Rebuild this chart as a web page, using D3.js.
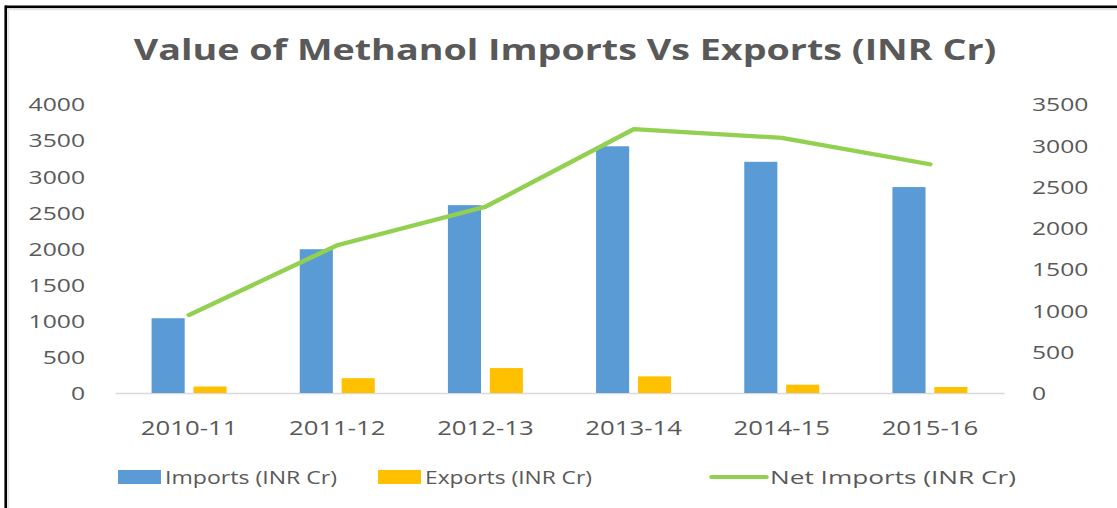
<!DOCTYPE html>
<html>
<head>
<meta charset="utf-8">
<script src="https://cdn.jsdelivr.net/npm/d3@7"></script>
<style>
  html, body { margin: 0; padding: 0; background: #fff; }
  svg { display: block; }
</style>
</head>
<body>
<div id="chart"></div>
<script>
// data
var years = ["2010-11", "2011-12", "2012-13", "2013-14", "2014-15", "2015-16"];
var imports = [1035, 1990, 2600, 3415, 3200, 2850];
var exports = [90, 205, 345, 230, 115, 83];
var netImports = [945, 1790, 2255, 3195, 3090, 2770];
var leftTicks = [0, 500, 1000, 1500, 2000, 2500, 3000, 3500, 4000];
var rightTicks = [0, 500, 1000, 1500, 2000, 2500, 3000, 3500];

var seriesNames = ["Imports (INR Cr)", "Exports (INR Cr)", "Net Imports (INR Cr)"];
var colors = { imp: "#5B9BD5", exp: "#FFC000", net: "#92D050" };
var textColor = "#595959";
var font = "'Open Sans', sans-serif";

// the picture is stretched sideways, so draw narrower and stretch it back
var SX = 1.3;
var width = 1117, height = 508;
var sx = v => v / SX;   // reference x -> drawing x

var svg = d3.select("#chart").append("svg")
  .attr("width", width)
  .attr("height", height)
  .attr("viewBox", `0 0 ${width / SX} ${height}`)
  .attr("preserveAspectRatio", "none");

// frame (black top / left edge with a faint gray inner line)
svg.append("line").attr("x1", sx(5)).attr("x2", sx(width)).attr("y1", 6.9).attr("y2", 6.9)
  .attr("stroke", "#000").attr("stroke-width", 2.6);
svg.append("line").attr("x1", sx(5.7)).attr("x2", sx(5.7)).attr("y1", 5.6).attr("y2", height)
  .attr("stroke", "#000").attr("stroke-width", 2.6 / SX);
svg.append("line").attr("x1", sx(8.2)).attr("x2", sx(width)).attr("y1", 9.2).attr("y2", 9.2)
  .attr("stroke", "#e4e4e4").attr("stroke-width", 2);
svg.append("line").attr("x1", sx(8.2)).attr("x2", sx(8.2)).attr("y1", 9.2).attr("y2", height)
  .attr("stroke", "#e4e4e4").attr("stroke-width", 2 / SX);

// title
svg.append("text")
  .attr("x", sx(565))
  .attr("y", 60)
  .attr("text-anchor", "middle")
  .attr("font-family", font)
  .attr("font-weight", "bold")
  .attr("font-size", 29)
  .attr("fill", textColor)
  .text("Value of Methanol Imports Vs Exports (INR Cr)");

// scales
var x0 = d3.scaleBand()
  .domain(years)
  .range([sx(115), sx(1004)])
  .padding(0);

var groupW = sx(75);
var x1 = d3.scaleBand()
  .domain(["imp", "exp"])
  .range([0, groupW])
  .paddingInner(0.21);

var yL = d3.scaleLinear().domain([0, 4000]).range([393, 104]);
var yR = d3.scaleLinear().domain([0, 3500]).range([393, 104]);

// left axis
var gL = svg.append("g")
  .attr("transform", `translate(${sx(85)},0)`)
  .call(d3.axisLeft(yL).tickValues(leftTicks).tickFormat(d3.format("d")).tickSize(0).tickPadding(0));
gL.select(".domain").remove();

// right axis
var gR = svg.append("g")
  .attr("transform", `translate(${sx(1032)},0)`)
  .call(d3.axisRight(yR).tickValues(rightTicks).tickFormat(d3.format("d")).tickSize(0).tickPadding(0));
gR.select(".domain").remove();

// bottom axis
var gB = svg.append("g")
  .attr("transform", "translate(0,393)")
  .call(d3.axisBottom(x0).tickSize(0).tickSizeOuter(0));
gB.select(".domain").attr("stroke", "#d9d9d9").attr("stroke-width", 1.4);
gB.selectAll("text").attr("y", 42).attr("dy", 0);

[gL, gR].forEach(g => {
  g.attr("font-family", font).attr("font-size", 19);
  g.selectAll("text").attr("fill", textColor).attr("dy", "0.36em");
});
gB.attr("font-family", font).attr("font-size", 19.8);
gB.selectAll("text").attr("fill", textColor);

// bars
var groups = svg.append("g").selectAll("g")
  .data(years)
  .join("g")
  .attr("transform", d => `translate(${x0(d) + (x0.bandwidth() - groupW) / 2},0)`);

groups.append("rect")
  .attr("x", x1("imp"))
  .attr("width", x1.bandwidth())
  .attr("y", (d, i) => yL(imports[i]))
  .attr("height", (d, i) => yL(0) - yL(imports[i]))
  .attr("fill", colors.imp);

groups.append("rect")
  .attr("x", x1("exp"))
  .attr("width", x1.bandwidth())
  .attr("y", (d, i) => yL(exports[i]))
  .attr("height", (d, i) => yL(0) - yL(exports[i]))
  .attr("fill", colors.exp);

// net imports line on the right axis
var line = d3.line()
  .x((d, i) => x0(years[i]) + x0.bandwidth() / 2)
  .y(d => yR(d));

svg.append("path")
  .datum(netImports)
  .attr("d", line)
  .attr("fill", "none")
  .attr("stroke", colors.net)
  .attr("stroke-width", 4.2)
  .attr("stroke-linecap", "round")
  .attr("stroke-linejoin", "round");

// legend
var legendY = 477;
var legendItems = [
  { name: seriesNames[0], color: colors.imp, type: "rect", x: 118, w: 43, tw: 172 },
  { name: seriesNames[1], color: colors.exp, type: "rect", x: 378, w: 43, tw: 167 },
  { name: seriesNames[2], color: colors.net, type: "line", x: 712, w: 54, tw: 246 }
];

var lg = svg.append("g").selectAll("g")
  .data(legendItems)
  .join("g");

lg.filter(d => d.type === "rect").append("rect")
  .attr("x", d => sx(d.x))
  .attr("y", legendY - 7)
  .attr("width", d => sx(d.w))
  .attr("height", 14)
  .attr("fill", d => d.color);

lg.filter(d => d.type === "line").append("line")
  .attr("x1", d => sx(d.x))
  .attr("x2", d => sx(d.x + d.w))
  .attr("y1", legendY)
  .attr("y2", legendY)
  .attr("stroke", d => d.color)
  .attr("stroke-width", 4.2)
  .attr("stroke-linecap", "round");

lg.append("text")
  .attr("x", d => sx(d.x + d.w + 4))
  .attr("y", legendY)
  .attr("dy", "0.36em")
  .attr("font-family", font)
  .attr("font-size", 18.6)
  .attr("fill", textColor)
  .attr("textLength", d => sx(d.tw))
  .attr("lengthAdjust", "spacingAndGlyphs")
  .text(d => d.name);
</script>
</body>
</html>
